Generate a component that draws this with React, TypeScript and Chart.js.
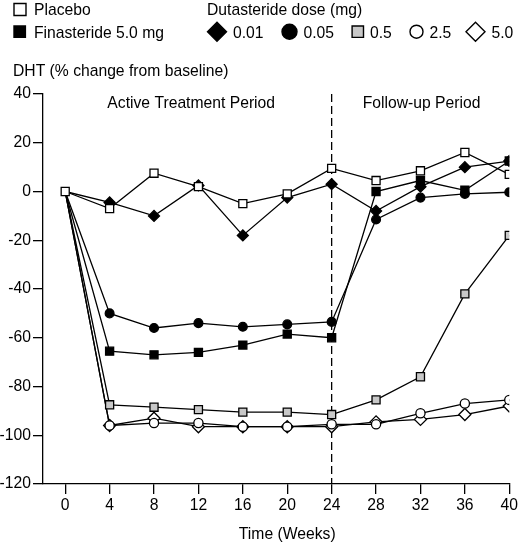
import React, { useEffect, useRef } from 'react';
import { Chart, registerables } from 'chart.js';

Chart.register(...registerables);

const FONT = '"Liberation Sans", Arial, sans-serif';
const FONT_SIZE = 15.7;

// weeks of measurement
const weeks = [0, 4, 8, 12, 16, 20, 24, 28, 32, 36, 40];
const xTicks = [0, 4, 8, 12, 16, 20, 24, 28, 32, 36, 40];
const treatmentEnd = 24;

// DHT, % change from baseline
const placebo = [0, -7, 7.5, 2, -5, -1, 9.5, 4.5, 8.5, 16, 7];
const finasteride = [0, -65.5, -67, -66, -63, -58.5, -60, 0, 4.5, 0.5, 12.5];
const dut001 = [0, -4.5, -10, 2.5, -18, -2.5, 3, -8, 2, 10, 12.5];
const dut005 = [0, -50, -56, -54, -55.5, -54.5, -53.5, -11.5, -2.5, -1, -0.3];
const dut05 = [0, -87.5, -88.5, -89.5, -90.5, -90.5, -91.5, -85.5, -76, -42, -18];
const dut25 = [0, -96, -95, -95, -96.5, -96.5, -95.5, -95.5, -91, -87, -85.5];
const dut50 = [0, -96, -93, -96.5, -96.5, -96.5, -96.5, -94.5, -93.5, -91.5, -88];

const GRAY = '#c8c8c8';

const toPoints = (vals: number[]) => weeks.map((w, i) => ({ x: w, y: vals[i] }));

// hide the marker at week 0 for all but placebo (they sit under it)
const radii = (r: number) => weeks.map((w) => (w === 0 ? 0 : r));

function makeSet(vals: number[], style: string, r: number, fill: string, hideFirst = true) {
  return {
    data: toPoints(vals),
    pointStyle: style,
    pointRadius: hideFirst ? radii(r) : r,
    pointBackgroundColor: fill,
    pointBorderColor: '#000',
    pointBorderWidth: 1.3,
    borderColor: '#000',
    borderWidth: 1.3,
    tension: 0,
    fill: false,
  };
}

function shape(
  ctx: CanvasRenderingContext2D,
  kind: string,
  cx: number,
  cy: number,
  s: number,
  fill: string
) {
  ctx.beginPath();
  if (kind === 'square') {
    ctx.rect(cx - s, cy - s, 2 * s, 2 * s);
  } else if (kind === 'diamond') {
    ctx.moveTo(cx, cy - s);
    ctx.lineTo(cx + s, cy);
    ctx.lineTo(cx, cy + s);
    ctx.lineTo(cx - s, cy);
    ctx.closePath();
  } else {
    ctx.arc(cx, cy, s, 0, Math.PI * 2);
  }
  ctx.fillStyle = fill;
  ctx.fill();
  ctx.lineWidth = 1.4;
  ctx.strokeStyle = '#000';
  ctx.stroke();
}

const overlay = {
  id: 'overlay',
  beforeDatasetsDraw(chart: any) {
    const { ctx, chartArea, scales } = chart;
    const x = scales.x.getPixelForValue(treatmentEnd);
    ctx.save();
    ctx.setLineDash([8, 4]);
    ctx.lineWidth = 1.3;
    ctx.strokeStyle = '#000';
    ctx.beginPath();
    ctx.moveTo(x, chartArea.top);
    ctx.lineTo(x, chartArea.bottom);
    ctx.stroke();
    ctx.restore();
  },
  afterDraw(chart: any) {
    const { ctx, chartArea, scales } = chart;
    ctx.save();
    ctx.font = `${FONT_SIZE}px ${FONT}`;
    ctx.fillStyle = '#000';
    ctx.textBaseline = 'alphabetic';
    ctx.textAlign = 'left';

    // legend
    shape(ctx, 'square', 20, 9.5, 6, '#fff');
    ctx.fillStyle = '#000';
    ctx.fillText('Placebo', 34, 15);
    shape(ctx, 'square', 19.7, 31.7, 5.7, '#000');
    ctx.fillStyle = '#000';
    ctx.fillText('Finasteride 5.0 mg', 34, 37.5);
    ctx.fillText('Dutasteride dose (mg)', 207, 15);

    const items: [string, number, number, string, string][] = [
      ['diamond', 217, 9.5, '#000', '0.01'],
      ['circle', 289.5, 7.5, '#000', '0.05'],
      ['square', 357.8, 5.7, GRAY, '0.5'],
      ['circle', 416.5, 6.5, '#fff', '2.5'],
      ['diamond', 475.5, 9.5, '#fff', '5.0'],
    ];
    items.forEach(([k, cx, s, f, label]) => {
      shape(ctx, k, cx, 31.7, s, f);
      ctx.fillStyle = '#000';
      ctx.fillText(label, cx + s + 6.5, 37.5);
    });

    ctx.fillText('DHT (% change from baseline)', 13, 76);

    ctx.textAlign = 'center';
    ctx.fillText('Active Treatment Period', scales.x.getPixelForValue(11.35), chartArea.top + 14);
    ctx.fillText('Follow-up Period', scales.x.getPixelForValue(32.1), chartArea.top + 14);
    ctx.fillText('Time (Weeks)', scales.x.getPixelForValue(20), 539);
    ctx.restore();
  },
};

const axisCommon = {
  grid: {
    drawOnChartArea: false,
    drawTicks: true,
    tickLength: 10,
    color: '#000',
    lineWidth: 1.3,
  },
  border: { display: true, color: '#000', width: 1.3 },
};

const DHTChart: React.FC = () => {
  const canvasRef = useRef<HTMLCanvasElement>(null);
  const chartRef = useRef<Chart | null>(null);

  useEffect(() => {
    document.body.style.margin = '0';
    if (!canvasRef.current) return;
    if (chartRef.current) chartRef.current.destroy();

    chartRef.current = new Chart(canvasRef.current, {
      type: 'line',
      data: {
        datasets: [
          makeSet(placebo, 'rect', 5.7, '#fff', false),
          makeSet(finasteride, 'rect', 5.7, '#000'),
          makeSet(dut001, 'rectRot', 5.5, '#000'),
          makeSet(dut005, 'circle', 4.4, '#000'),
          makeSet(dut05, 'rect', 5.7, GRAY),
          makeSet(dut25, 'circle', 4.6, '#fff'),
          makeSet(dut50, 'rectRot', 6, '#fff'),
        ] as any,
      },
      options: {
        animation: false,
        responsive: false,
        devicePixelRatio: 1,
        layout: { padding: { top: 94, right: 9, left: 0, bottom: 0 } },
        plugins: {
          legend: { display: false },
          tooltip: { enabled: false },
          title: { display: false },
        },
        scales: {
          x: {
            type: 'linear',
            min: -2,
            max: 40,
            ...axisCommon,
            afterBuildTicks: (scale: any) => {
              scale.ticks = xTicks.map((v) => ({ value: v }));
            },
            afterFit: (scale: any) => {
              scale.height = 60;
            },
            ticks: {
              color: '#000',
              font: { family: FONT, size: FONT_SIZE },
              padding: 2,
              maxRotation: 0,
              autoSkip: false,
            },
          },
          y: {
            type: 'linear',
            min: -120,
            max: 40,
            ...axisCommon,
            afterFit: (scale: any) => {
              scale.width = 43;
            },
            ticks: {
              stepSize: 20,
              color: '#000',
              font: { family: FONT, size: FONT_SIZE },
              padding: 2,
            },
          },
        },
      } as any,
      plugins: [overlay],
    });

    return () => {
      if (chartRef.current) {
        chartRef.current.destroy();
        chartRef.current = null;
      }
    };
  }, []);

  return (
    <div style={{ width: 520, height: 544, background: '#fff' }}>
      <canvas ref={canvasRef} width={520} height={544}></canvas>
    </div>
  );
};

export default function App() {
  return <DHTChart />;
}
